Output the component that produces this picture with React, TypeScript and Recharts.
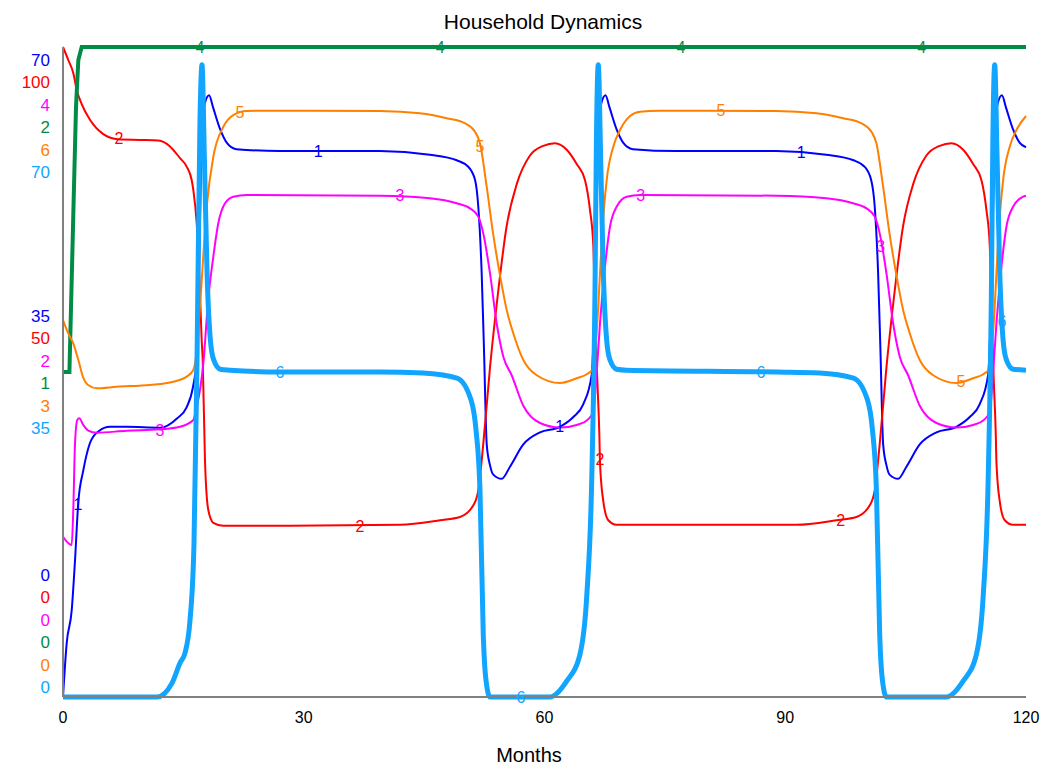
import React from 'react';
import { ComposedChart, Line, XAxis, YAxis } from 'recharts';

// [month, value] pairs, one array per series
const series1 = [
  [0, 0], [0.46, 5.8], [1.08, 9.3], [1.5, 14.75], [1.9, 20.9], [2.53, 24.4], [3.36, 27.35], [4.4, 28.6],
  [5.86, 29.1], [7.94, 29.1], [12.1, 29.0], [14.2, 30.0], [15.4, 31.2], [16.2, 33.4], [16.65, 36.3],
  [16.9, 43.7], [17.3, 60.2], [17.64, 63.8], [18.2, 64.8], [18.7, 63.5], [19.6, 61.1], [20.4, 59.7],
  [21.6, 59.0], [27, 58.8], [39.5, 58.8], [45.7, 58.4], [49.06, 57.8], [50.5, 57.1], [51.34, 55.7],
  [51.75, 52.8], [52.17, 45.7], [52.46, 37.4], [52.8, 27.2], [53.2, 25], [53.62, 23.95], [54.67, 23.5],
  [55.7, 24.8], [57.36, 27.2], [59.44, 28.5], [61.93, 29.1], [63.59, 30.15], [64.84, 31.55], [65.88, 34.7],
  [66.29, 43.7], [66.7, 60.2], [67.04, 63.8], [67.6, 64.8], [68.1, 63.5], [69.0, 61.1], [69.8, 59.7],
  [71.0, 59.0], [76.4, 58.8], [88.9, 58.8], [95.1, 58.4], [98.5, 57.8], [99.9, 57.1], [100.7, 55.7],
  [101.15, 52.8], [101.57, 45.7], [101.86, 37.4], [102.2, 27.2], [102.6, 25], [103.0, 23.95], [104.07, 23.5],
  [105.1, 24.8], [106.76, 27.2], [108.84, 28.5], [111.33, 29.1], [112.99, 30.15], [114.24, 31.55],
  [115.28, 34.7], [115.69, 43.7], [116.1, 60.2], [116.44, 63.8], [117.0, 64.8], [117.5, 63.5],
  [118.4, 61.1], [119.2, 59.7], [120, 59.2],
];

const series2 = [
  [0, 100], [0.66, 98.0], [1.28, 96.0], [1.71, 93.4], [2.33, 91.2], [3.36, 88.8], [5.02, 86.6], [6.89, 85.8],
  [9.6, 85.7], [11.88, 85.6], [13.33, 84.7], [14.58, 82.9], [15.41, 81.6], [16.04, 79.5], [16.24, 78.0],
  [16.66, 72.9], [16.98, 65.2], [17.28, 54.9], [17.41, 51.8], [17.69, 36.5], [18.1, 28.8], [18.73, 26.8],
  [19.97, 26.35], [28.3, 26.35], [42.0, 26.5], [46.98, 27.2], [49.47, 27.7], [51.13, 29.5], [51.75, 31.8],
  [52.37, 38.9], [53.21, 50.7], [54.24, 62.5], [55.29, 72.5], [56.54, 78.9], [58.19, 83.3], [59.85, 84.8],
  [61.31, 85.2], [62.77, 84.2], [64.01, 82.0], [65.05, 79.5], [65.67, 74.9], [66.08, 69.5], [66.29, 60.0],
  [66.58, 48.8], [66.83, 40.6], [66.92, 36.0], [67.33, 30.1], [67.95, 27.2], [69.0, 26.5], [91.4, 26.5],
  [96.38, 27.2], [98.87, 27.7], [100.53, 29.5], [101.15, 31.8], [101.77, 38.9], [102.61, 50.7],
  [103.64, 62.5], [104.69, 72.5], [105.94, 78.9], [107.59, 83.3], [109.25, 84.8], [110.71, 85.2],
  [112.17, 84.2], [113.41, 82.0], [114.45, 79.5], [115.07, 74.9], [115.48, 69.5], [115.69, 60.0],
  [115.98, 48.8], [116.23, 40.6], [116.32, 36.0], [116.73, 30.1], [117.35, 27.2], [118.4, 26.5], [120, 26.5],
];

const series3 = [
  [0, 0.986], [1.08, 0.935], [1.28, 1.151], [1.5, 1.563], [1.78, 1.705], [2.03, 1.715], [2.53, 1.674],
  [3.15, 1.639], [4.2, 1.626], [7.94, 1.639], [12.09, 1.647], [14.58, 1.663], [16.24, 1.705], [16.66, 1.786],
  [17.07, 1.889], [17.48, 2.05], [18.1, 2.45], [18.73, 2.709], [19.35, 2.915], [20.19, 3.038], [21.22, 3.079],
  [22.89, 3.089], [39.5, 3.085], [45.73, 3.069], [49.06, 3.038], [50.72, 3.007], [51.75, 2.956],
  [52.37, 2.853], [53.21, 2.607], [54.04, 2.3], [54.87, 2.094], [55.91, 1.98], [57.36, 1.792], [59.44, 1.686],
  [61.93, 1.658], [64.01, 1.674], [65.46, 1.71], [66.08, 1.757], [66.5, 1.994], [66.92, 2.302], [67.54, 2.648],
  [68.16, 2.894], [68.99, 3.017], [70.24, 3.079], [71.9, 3.089], [88.9, 3.085], [95.13, 3.069], [98.46, 3.038],
  [100.12, 3.007], [101.15, 2.956], [101.77, 2.853], [102.61, 2.607], [103.44, 2.3], [104.27, 2.094],
  [105.31, 1.98], [106.76, 1.792], [108.84, 1.686], [111.33, 1.658], [113.41, 1.674], [114.86, 1.71],
  [115.48, 1.757], [115.9, 1.994], [116.32, 2.302], [116.94, 2.648], [117.56, 2.894], [118.39, 3.017],
  [119.64, 3.079], [120, 3.085],
];

const series4 = [
  [0, 1], [0.8, 1], [1.3, 1.5], [1.62, 1.815], [1.91, 1.96], [2.33, 2], [120, 2],
];

const series5 = [
  [0, 3.48], [0.66, 3.357], [1.28, 3.265], [1.91, 3.111], [2.53, 2.945], [3.12, 2.88], [4.2, 2.85],
  [6.69, 2.864], [10.84, 2.88], [13.74, 2.91], [15.41, 2.957], [16.24, 3.018], [16.66, 3.2], [17.07, 3.603],
  [17.91, 4.526], [18.73, 4.987], [19.98, 5.264], [21.22, 5.372], [22.89, 5.409], [24.96, 5.412],
  [39.5, 5.409], [44.49, 5.388], [47.81, 5.342], [50.09, 5.296], [51.34, 5.218], [51.96, 5.111], [52.8, 4.708],
  [53.62, 4.265], [54.45, 3.895], [55.29, 3.572], [56.11, 3.358], [57.36, 3.111], [59.03, 2.97], [61.93, 2.898],
  [64.01, 2.942], [65.46, 2.988], [66.08, 3.034], [66.7, 3.603], [67.13, 4.218], [67.75, 4.772], [68.57, 5.08],
  [69.41, 5.234], [70.66, 5.363], [71.9, 5.403], [74.36, 5.412], [88.9, 5.409], [93.89, 5.388], [97.21, 5.342],
  [99.49, 5.296], [100.74, 5.218], [101.36, 5.111], [102.2, 4.708], [103.02, 4.265], [103.85, 3.895],
  [104.69, 3.572], [105.51, 3.358], [106.76, 3.111], [108.43, 2.97], [111.33, 2.898], [113.41, 2.942],
  [114.86, 2.988], [115.48, 3.034], [116.1, 3.603], [116.53, 4.218], [117.15, 4.772], [117.97, 5.08],
  [118.81, 5.234], [120, 5.363],
];

const series6 = [
  [0, 0], [11.7, 0], [13.58, 1.5], [14.58, 3.66], [15.2, 4.74], [15.83, 8.3], [16.32, 16.4], [16.7, 36.3],
  [17.07, 62.1], [17.32, 68.1], [17.62, 58], [17.95, 45.7], [18.37, 38.4], [18.78, 36.3], [19.6, 35.3],
  [20.8, 35.2], [27.04, 35.0], [39.5, 35.0], [44.86, 34.9], [49.1, 34.35], [50.84, 32.0], [51.46, 28.8],
  [51.96, 22.3], [52.37, 6.7], [52.71, 1.8], [53.21, 0], [60.69, 0], [62.76, 1.7], [64.42, 4.6], [65.26, 10.8],
  [65.88, 23.2], [66.29, 43.7], [66.47, 60], [66.7, 68.1], [67.0, 58], [67.33, 45.7], [67.75, 38.4],
  [68.16, 36.3], [69.0, 35.3], [70.2, 35.2], [88.9, 35.0], [94.26, 34.9], [98.5, 34.35], [100.24, 32.0],
  [100.86, 28.8], [101.36, 22.3], [101.77, 6.7], [102.11, 1.8], [102.61, 0], [110.09, 0], [112.16, 1.7],
  [113.82, 4.6], [114.66, 10.8], [115.28, 23.2], [115.69, 43.7], [115.87, 60], [116.1, 68.1], [116.4, 58],
  [116.73, 45.7], [117.15, 38.4], [117.56, 36.3], [118.4, 35.3], [120, 35.2],
];

// where each series' number tag sits on its curve
const labels1 = [[1.87, 20.7], [31.8, 58.8], [61.9, 29.1], [92.0, 58.6]];
const labels2 = [[6.98, 86.0], [37.0, 26.2], [66.92, 36.5], [96.9, 27.2]];
const labels3 = [[12.09, 1.643], [42.0, 3.089], [72.0, 3.089], [101.9, 2.77]];
const labels4 = [[17.07, 2], [47.0, 2], [77.0, 2], [107.0, 2]];
const labels5 = [[22.06, 5.4], [51.96, 5.077], [82.0, 5.418], [111.9, 2.908]];
const labels6 = [[27.04, 35.0], [57.07, 0], [86.98, 35.0], [117.0, 40.4]];

const yMax = [70, 100, 4, 2, 6, 70];
const yTickLabels = [
  ['0', '35', '70'],
  ['0', '50', '100'],
  ['0', '2', '4'],
  ['0', '1', '2'],
  ['0', '3', '6'],
  ['0', '35', '70'],
];
const xTicks = [0, 30, 60, 90, 120];

const COLORS = ['#0000ff', '#ff0000', '#ff00ff', '#008c46', '#ff8000', '#12a5ff'];
const WIDTHS = [2, 2, 2, 4, 2, 5];
const FONT = '"Liberation Sans", Arial, sans-serif';
const AXIS_GREY = '#808080';

const allSeries = [series1, series2, series3, series4, series5, series6];
const allLabels = [labels1, labels2, labels3, labels4, labels5, labels6];

const toPoints = (arr: number[][]) => arr.map(([t, v]) => ({ t, v }));

// stacked coloured value labels, one row per series
function StackedTick(props: any) {
  const { y, index } = props;
  const step = 22.5;
  const start = index === 2 ? y + 13 : index === 1 ? y - 56 : y - 122;
  return (
    <g>
      {yTickLabels.map((labels, i) => (
        <text
          key={i}
          x={50}
          y={start + i * step}
          textAnchor="end"
          dominantBaseline="central"
          fill={COLORS[i]}
          fontSize={17}
          fontFamily={FONT}
        >
          {labels[index]}
        </text>
      ))}
    </g>
  );
}

function MonthTick(props: any) {
  const { x, payload } = props;
  return (
    <text x={x} y={717} textAnchor="middle" dominantBaseline="central" fill="#000" fontSize={16} fontFamily={FONT}>
      {payload.value}
    </text>
  );
}

const numberTag = (i: number) => (props: any) => {
  const { cx, cy, index } = props;
  return (
    <text
      key={`tag-${i}-${index}`}
      x={cx}
      y={cy}
      textAnchor="middle"
      dominantBaseline="central"
      fill={COLORS[i]}
      fontSize={16}
      fontFamily={FONT}
    >
      {i + 1}
    </text>
  );
};

export default function App() {
  return (
    <div style={{ position: 'absolute', left: 0, top: 0, width: 1051, height: 771, background: '#fff' }}>
      <div
        style={{
          position: 'absolute', left: 0, width: 1086, top: 10, textAlign: 'center',
          fontFamily: FONT, fontSize: 21, lineHeight: '24px', color: '#000',
        }}
      >
        Household Dynamics
      </div>
      <ComposedChart width={1051} height={771} margin={{ top: 47, right: 25, bottom: 0, left: 0 }}>
        <XAxis
          type="number"
          dataKey="t"
          domain={[0, 120]}
          ticks={xTicks}
          interval={0}
          height={74}
          tickLine={false}
          axisLine={{ stroke: AXIS_GREY, strokeWidth: 2 }}
          tick={<MonthTick />}
          allowDuplicatedCategory={false}
        />
        {yMax.map((max, i) =>
          i === 0 ? (
            <YAxis
              key={i}
              yAxisId={`s${i}`}
              domain={[0, max]}
              ticks={[0, max / 2, max]}
              interval={0}
              width={63}
              tickLine={false}
              axisLine={{ stroke: AXIS_GREY, strokeWidth: 2 }}
              tick={<StackedTick />}
            />
          ) : (
            <YAxis key={i} yAxisId={`s${i}`} domain={[0, max]} hide />
          )
        )}
        {allSeries.map((s, i) => (
          <Line
            key={`line-${i}`}
            yAxisId={`s${i}`}
            data={toPoints(s)}
            dataKey="v"
            type={i === 3 ? 'linear' : 'monotone'}
            stroke={COLORS[i]}
            strokeWidth={WIDTHS[i]}
            dot={false}
            activeDot={false}
            isAnimationActive={false}
          />
        ))}
        {allLabels.map((s, i) => (
          <Line
            key={`tags-${i}`}
            yAxisId={`s${i}`}
            data={toPoints(s)}
            dataKey="v"
            stroke="none"
            dot={numberTag(i)}
            activeDot={false}
            isAnimationActive={false}
          />
        ))}
      </ComposedChart>
      <div
        style={{
          position: 'absolute', left: 0, width: 1058, top: 743, textAlign: 'center',
          fontFamily: FONT, fontSize: 20, lineHeight: '24px', color: '#000',
        }}
      >
        Months
      </div>
    </div>
  );
}
